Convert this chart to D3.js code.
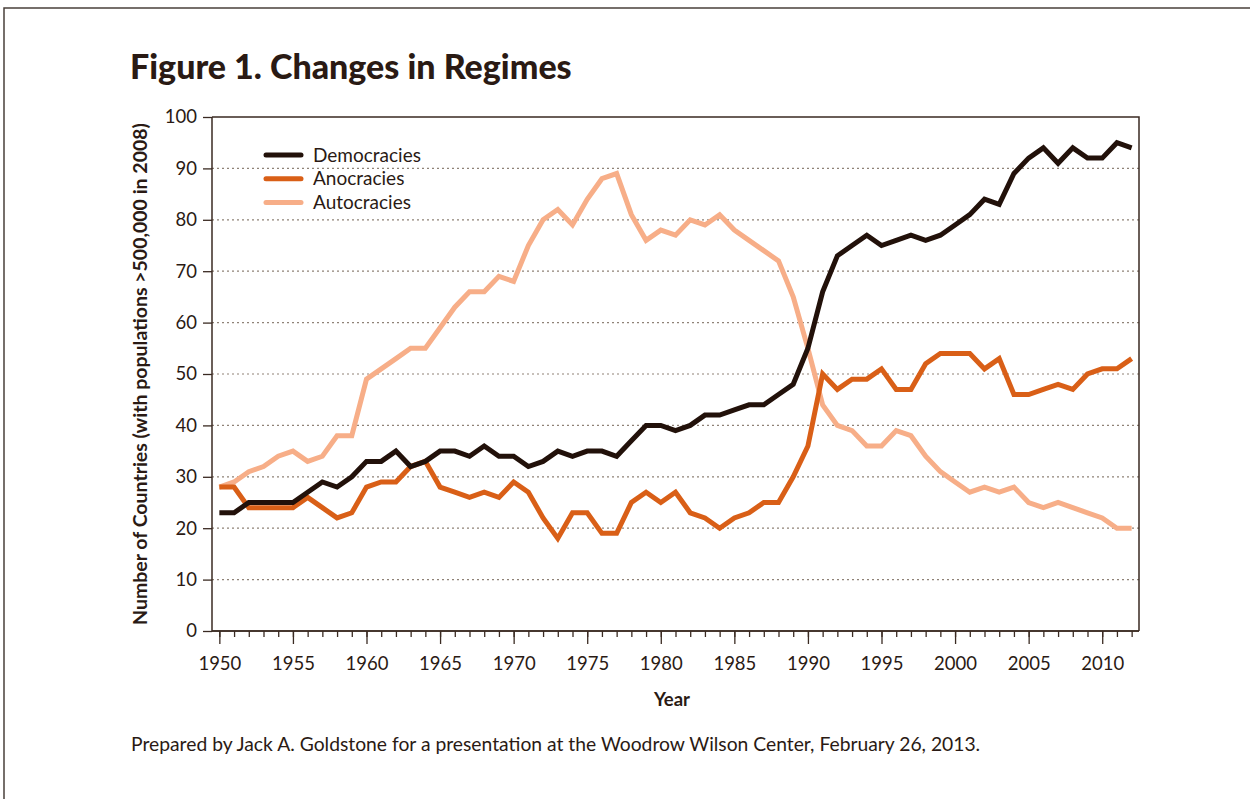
<!DOCTYPE html>
<html>
<head>
<meta charset="utf-8">
<script src="https://cdn.jsdelivr.net/npm/d3@7"></script>
<style>
  html, body { margin: 0; padding: 0; background: #fff; }
  svg { display: block; font-family: Lato, "Open Sans", sans-serif; }
</style>
</head>
<body>
<script>
'use strict';

// data
const years = d3.range(1950, 2013);

const democracies = [23, 23, 25, 25, 25, 25, 27, 29, 28, 30,
  33, 33, 35, 32, 33, 35, 35, 34, 36, 34,
  34, 32, 33, 35, 34, 35, 35, 34, 37, 40,
  40, 39, 40, 42, 42, 43, 44, 44, 46, 48,
  55, 66, 73, 75, 77, 75, 76, 77, 76, 77,
  79, 81, 84, 83, 89, 92, 94, 91, 94, 92,
  92, 95, 94];

const anocracies = [28, 28, 24, 24, 24, 24, 26, 24, 22, 23,
  28, 29, 29, 32, 33, 28, 27, 26, 27, 26,
  29, 27, 22, 18, 23, 23, 19, 19, 25, 27,
  25, 27, 23, 22, 20, 22, 23, 25, 25, 30,
  36, 50, 47, 49, 49, 51, 47, 47, 52, 54,
  54, 54, 51, 53, 46, 46, 47, 48, 47, 50,
  51, 51, 53];

const autocracies = [28, 29, 31, 32, 34, 35, 33, 34, 38, 38,
  49, 51, 53, 55, 55, 59, 63, 66, 66, 69,
  68, 75, 80, 82, 79, 84, 88, 89, 81, 76,
  78, 77, 80, 79, 81, 78, 76, 74, 72, 65,
  55, 44, 40, 39, 36, 36, 39, 38, 34, 31,
  29, 27, 28, 27, 28, 25, 24, 25, 24, 23,
  22, 20, 20];

const seriesNames = ['Democracies', 'Anocracies', 'Autocracies'];
const seriesColors = ['#22110a', '#d95f17', '#f7ae88'];
const yTicks = d3.range(0, 101, 10);
const majorYears = d3.range(1950, 2013, 5);

const ink = '#2a1a14';
const width = 1250, height = 799;

const svg = d3.select('body').append('svg')
  .attr('width', width)
  .attr('height', height);

// page frame
svg.append('path')
  .attr('d', `M4,${height} V8 H${width}`)
  .attr('fill', 'none')
  .attr('stroke', '#4a403b')
  .attr('stroke-width', 1.5);

svg.append('text')
  .attr('x', 130)
  .attr('y', 79)
  .attr('fill', ink)
  .attr('font-size', 34)
  .attr('font-weight', 900)
  .text('Figure 1. Changes in Regimes');

const x = d3.scaleLinear().domain([1949.5, 2012.5]).range([212, 1139]);
const y = d3.scaleLinear().domain([0, 100]).range([631, 117]);

// gridlines
svg.append('g')
  .selectAll('line')
  .data(yTicks.filter(d => d > 0 && d < 100))
  .enter().append('line')
  .attr('x1', x.range()[0])
  .attr('x2', x.range()[1])
  .attr('y1', d => y(d))
  .attr('y2', d => y(d))
  .attr('stroke', '#8f8277')
  .attr('stroke-width', 1.2)
  .attr('stroke-dasharray', '2,3');

// box: top and right edges
svg.append('path')
  .attr('d', `M${x.range()[0]},${y(100)} H${x.range()[1]} V${y(0)}`)
  .attr('fill', 'none')
  .attr('stroke', '#3a2a22')
  .attr('stroke-width', 1.5);

// y axis
const yAxis = svg.append('g')
  .attr('transform', `translate(${x.range()[0]},0)`)
  .call(d3.axisLeft(y).tickValues(yTicks).tickSize(9).tickPadding(6));

// x axis: minor ticks every year, labelled ticks every 5 years
const xMinor = svg.append('g')
  .attr('transform', `translate(0,${y(0)})`)
  .call(d3.axisBottom(x).tickValues(years).tickSize(6).tickFormat(''));

const xAxis = svg.append('g')
  .attr('transform', `translate(0,${y(0)})`)
  .call(d3.axisBottom(x).tickValues(majorYears).tickSize(13).tickPadding(13).tickFormat(d3.format('d')));

[yAxis, xMinor, xAxis].forEach(g => {
  g.selectAll('.domain').attr('stroke', '#3a2a22').attr('stroke-width', 1.5);
  g.selectAll('.tick line').attr('stroke', '#3a2a22').attr('stroke-width', 1.3);
  g.selectAll('.tick text')
    .attr('fill', ink)
    .attr('font-size', 18.5)
    .attr('font-family', 'Lato, sans-serif');
});
xMinor.select('.domain').attr('d', `M${x.range()[0]},0H${x.range()[1]}`);
xAxis.select('.domain').attr('d', `M${x.range()[0]},0H${x.range()[1]}`);
yAxis.select('.domain').attr('d', `M0,${y(0)}V${y(100)}`);

// axis titles
svg.append('text')
  .attr('x', 672)
  .attr('y', 706)
  .attr('text-anchor', 'middle')
  .attr('fill', ink)
  .attr('font-size', 18.5)
  .attr('font-weight', 700)
  .text('Year');

svg.append('text')
  .attr('transform', `translate(147,${(y(0) + y(100)) / 2}) rotate(-90)`)
  .attr('text-anchor', 'middle')
  .attr('fill', ink)
  .attr('font-size', 19.5)
  .attr('font-weight', 700)
  .text('Number of Countries (with populations >500,000 in 2008)');

// lines, autocracies underneath
const line = d3.line()
  .x((d, i) => x(years[i]))
  .y(d => y(d));

const allSeries = [democracies, anocracies, autocracies];

svg.append('g')
  .selectAll('path')
  .data([2, 1, 0])
  .enter().append('path')
  .attr('d', i => line(allSeries[i]))
  .attr('fill', 'none')
  .attr('stroke', i => seriesColors[i])
  .attr('stroke-width', 5)
  .attr('stroke-linejoin', 'miter');

// legend
const legend = svg.append('g')
  .selectAll('g')
  .data(seriesNames)
  .enter().append('g')
  .attr('transform', (d, i) => `translate(266,${155 + i * 23.7})`);

legend.append('line')
  .attr('x1', 0)
  .attr('x2', 35)
  .attr('stroke', (d, i) => seriesColors[i])
  .attr('stroke-width', 5)
  .attr('stroke-linecap', 'round');

legend.append('text')
  .attr('x', 47)
  .attr('y', 6.5)
  .attr('fill', ink)
  .attr('font-size', 19)
  .text(d => d);

// source note
svg.append('text')
  .attr('x', 131)
  .attr('y', 751)
  .attr('fill', ink)
  .attr('font-size', 19.3)
  .text('Prepared by Jack A. Goldstone for a presentation at the Woodrow Wilson Center, February 26, 2013.');
</script>
</body>
</html>
